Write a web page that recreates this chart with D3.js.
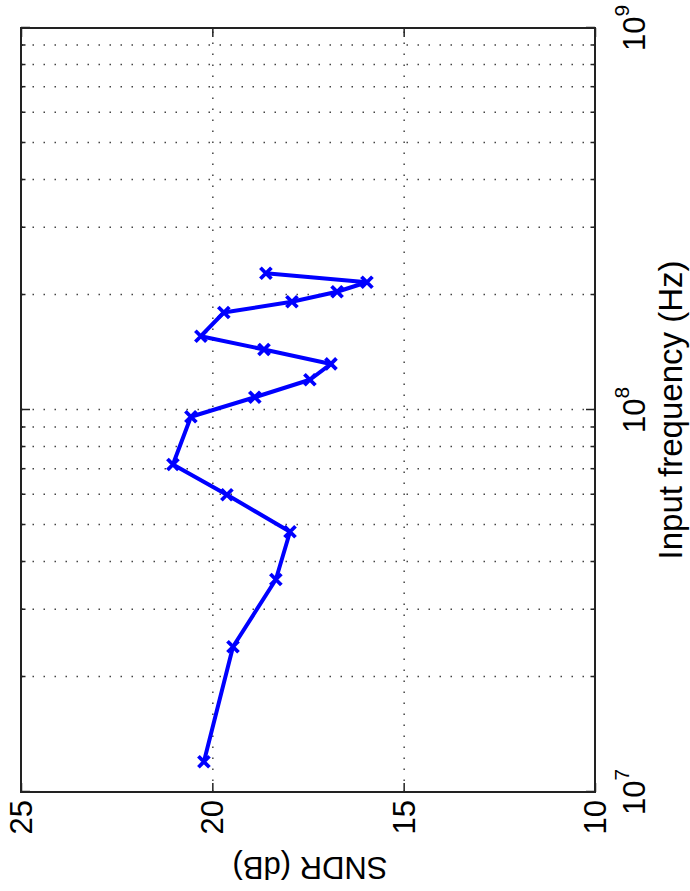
<!DOCTYPE html>
<html>
<head>
<meta charset="utf-8">
<script src="https://cdn.jsdelivr.net/npm/d3@7"></script>
<style>
  html, body { margin: 0; padding: 0; background: #fff; }
  text { font-family: "Liberation Sans", Arial, Helvetica, sans-serif; fill: #000; }
</style>
</head>
<body>
<svg id="chart" width="690" height="891"></svg>
<script>
// measured data: input frequency (Hz) vs SNDR (dB)
const freqHz = [1.2e7, 2.4e7, 3.6e7, 4.8e7, 6.0e7, 7.2e7, 9.6e7, 1.08e8, 1.2e8,
                1.32e8, 1.44e8, 1.56e8, 1.8e8, 1.92e8, 2.04e8, 2.16e8, 2.28e8];
const sndrDb = [20.22, 19.46, 18.34, 17.97, 19.62, 21.03, 20.56, 18.89, 17.45,
                16.90, 18.65, 20.30, 19.70, 17.92, 16.74, 15.96, 18.60];

const freqMajor = [1e7, 1e8, 1e9];
const freqMinor = [2e7, 3e7, 4e7, 5e7, 6e7, 7e7, 8e7, 9e7, 2e8, 3e8, 4e8, 5e8, 6e8, 7e8, 8e8, 9e8];
const sndrTicks = [10, 15, 20, 25];
const xLabel = 'Input frequency (Hz)';
const yLabel = 'SNDR (dB)';

// the figure is drawn in its own (landscape) frame, then turned 90deg ccw
const W = 891;
const margin = {left: 99, right: 863, top: 21, bottom: 595};

const svg = d3.select('#chart');
const g = svg.append('g').attr('transform', 'translate(0,' + W + ') rotate(-90)');

const x = d3.scaleLog().domain([1e7, 1e9]).range([margin.left, margin.right]);
const y = d3.scaleLinear().domain([10, 25]).range([margin.bottom, margin.top]);
const plotH = margin.bottom - margin.top;
const plotW = margin.right - margin.left;

// grid (dotted)
const gridF = freqMinor.concat([1e8]);
g.append('g')
  .attr('transform', 'translate(0,' + margin.bottom + ')')
  .call(d3.axisBottom(x).tickValues(gridF).tickSize(-plotH).tickFormat(''))
  .call(s => s.select('.domain').remove())
  .selectAll('line')
  .attr('stroke', '#444').attr('stroke-width', 1.5).attr('stroke-dasharray', '1.5,9.5');

g.append('g')
  .attr('transform', 'translate(' + margin.left + ',0)')
  .call(d3.axisLeft(y).tickValues([15, 20]).tickSize(-plotW).tickFormat(''))
  .call(s => s.select('.domain').remove())
  .selectAll('line')
  .attr('stroke', '#444').attr('stroke-width', 1.5).attr('stroke-dasharray', '1.5,9.5');

// tick marks inside box, on all four sides
function tickAxis(axisFn, scale, vals, len, tr) {
  g.append('g')
    .attr('transform', tr)
    .call(axisFn(scale).tickValues(vals).tickSize(len).tickFormat(''))
    .call(s => s.select('.domain').remove())
    .selectAll('line').attr('stroke', '#222').attr('stroke-width', 1.5);
}
tickAxis(d3.axisBottom, x, freqMajor, -9, 'translate(0,' + margin.bottom + ')');
tickAxis(d3.axisBottom, x, freqMinor, -4.5, 'translate(0,' + margin.bottom + ')');
tickAxis(d3.axisTop, x, freqMajor, -9, 'translate(0,' + margin.top + ')');
tickAxis(d3.axisTop, x, freqMinor, -4.5, 'translate(0,' + margin.top + ')');
tickAxis(d3.axisLeft, y, sndrTicks, -9, 'translate(' + margin.left + ',0)');
tickAxis(d3.axisRight, y, sndrTicks, -9, 'translate(' + margin.right + ',0)');

// box
g.append('rect')
  .attr('x', margin.left).attr('y', margin.top)
  .attr('width', plotW).attr('height', plotH)
  .attr('fill', 'none').attr('stroke', '#222').attr('stroke-width', 2);

// x tick labels 10^n
const xt = g.append('g').selectAll('text')
  .data(freqMajor)
  .join('text')
  .attr('x', d => x(d))
  .attr('y', 645)
  .attr('text-anchor', 'middle')
  .attr('font-size', 31);
xt.append('tspan').text('10');
xt.append('tspan').attr('dy', -16).attr('font-size', 21).text(d => Math.round(Math.log10(d)));

// y tick labels
g.append('g').selectAll('text')
  .data(sndrTicks)
  .join('text')
  .attr('x', 91)
  .attr('y', d => y(d))
  .attr('dy', '0.36em')
  .attr('text-anchor', 'end')
  .attr('font-size', 31)
  .text(d => d);

// axis labels
g.append('text')
  .attr('x', (margin.left + margin.right) / 2)
  .attr('y', 682)
  .attr('text-anchor', 'middle')
  .attr('font-size', 33)
  .text(xLabel);

g.append('text')
  .attr('transform', 'translate(34,' + ((margin.top + margin.bottom) / 2 + 2) + ') rotate(-90)')
  .attr('text-anchor', 'middle')
  .attr('font-size', 31)
  .text(yLabel);

// data line + x markers
const pts = freqHz.map((f, i) => [x(f), y(sndrDb[i])]);
g.append('path')
  .datum(pts)
  .attr('d', d3.line())
  .attr('fill', 'none')
  .attr('stroke', '#0000ff')
  .attr('stroke-width', 4)
  .attr('stroke-linejoin', 'round');

const m = 5.5;
g.append('g').selectAll('path')
  .data(pts)
  .join('path')
  .attr('d', d => 'M' + (d[0] - m) + ',' + (d[1] - m) + 'L' + (d[0] + m) + ',' + (d[1] + m) +
                  'M' + (d[0] - m) + ',' + (d[1] + m) + 'L' + (d[0] + m) + ',' + (d[1] - m))
  .attr('stroke', '#0000ff')
  .attr('stroke-width', 3.8);
</script>
</body>
</html>
